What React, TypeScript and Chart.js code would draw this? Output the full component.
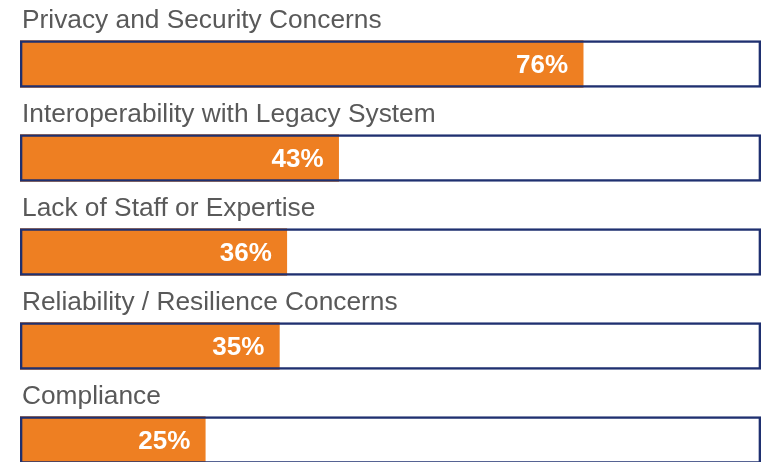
import React, { useEffect, useRef } from "react";
import { Chart, registerables } from "chart.js";

Chart.register(...registerables);

const categories = [
  "Privacy and Security Concerns",
  "Interoperability with Legacy System",
  "Lack of Staff or Expertise",
  "Reliability / Resilience Concerns",
  "Compliance",
];
const values = [76, 43, 36, 35, 25];
const fullScale = [100, 100, 100, 100, 100];

const ORANGE = "#EE7F22";
const NAVY = "#1F3070";
const GRAY = "#595959";

const labelPlugin = {
  id: "labelPlugin",
  afterDatasetsDraw(chart: any) {
    const ctx = chart.ctx;
    const boxMeta = chart.getDatasetMeta(0);
    const valMeta = chart.getDatasetMeta(1);
    ctx.save();
    boxMeta.data.forEach((bar: any, i: number) => {
      const top = bar.y - bar.height / 2;
      ctx.font = "26.3px 'Liberation Sans', Arial, sans-serif";
      ctx.fillStyle = GRAY;
      ctx.textAlign = "left";
      ctx.textBaseline = "alphabetic";
      ctx.fillText(categories[i], chart.chartArea.left + 2, top - 13);
    });
    valMeta.data.forEach((bar: any, i: number) => {
      ctx.font = "bold 26px 'Liberation Sans', Arial, sans-serif";
      ctx.fillStyle = "#FFFFFF";
      ctx.textAlign = "right";
      ctx.textBaseline = "alphabetic";
      ctx.fillText(values[i] + "%", bar.x - 15, bar.y + 9);
    });
    ctx.restore();
  },
};

export default function App() {
  const ref = useRef<HTMLCanvasElement | null>(null);
  useEffect(() => {
    if (!ref.current) return;
    const chart = new Chart(ref.current, {
      type: "bar",
      data: {
        labels: categories,
        datasets: [
          {
            data: fullScale,
            backgroundColor: "rgba(255,255,255,0)",
            borderColor: NAVY,
            borderWidth: 2,
            borderSkipped: false,
            barThickness: 47,
            order: 0,
          },
          {
            data: values,
            backgroundColor: ORANGE,
            borderWidth: 0,
            barThickness: 47,
            order: 1,
          },
        ],
      },
      options: {
        indexAxis: "y",
        animation: false,
        responsive: false,
        maintainAspectRatio: false,
        layout: { padding: { top: 17, bottom: 0, left: 20, right: 0 } },
        plugins: { legend: { display: false }, tooltip: { enabled: false } },
        scales: {
          x: { display: false, min: 0, max: 100, stacked: false },
          y: { display: false, stacked: true, grid: { display: false } },
        },
        datasets: { bar: { grouped: false } },
      } as any,
      plugins: [labelPlugin],
    });
    return () => chart.destroy();
  }, []);
  return (
    <div
      style={{
        position: "fixed",
        left: 0,
        top: 0,
        width: 761,
        height: 462,
        overflow: "hidden",
        background: "#fff",
      }}
    >
      <canvas ref={ref} width={761} height={487} style={{ display: "block", width: 761, height: 487 }} />
    </div>
  );
}
